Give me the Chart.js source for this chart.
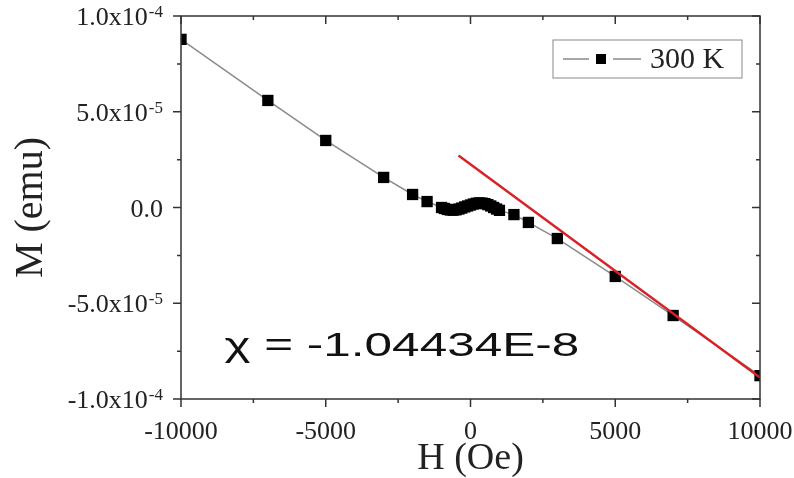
<!DOCTYPE html>
<html>
<head>
<meta charset="utf-8">
<script src="https://cdn.jsdelivr.net/npm/chart.js@4"></script>
<style>
  body { margin: 0; background: #fff; }
</style>
</head>
<body>
<canvas id="mh_chart" width="794" height="478"></canvas>
<script>
// field (Oe) and moment (emu)
const hField = [-10000, -7000, -5000, -3000, -2000, -1500,
	-1000, -900, -800, -700, -600, -500, -400, -300, -200, -100, 0,
	100, 200, 300, 400, 500, 600, 700, 800, 900, 1000,
	1500, 2000, 3000, 5000, 7000, 10000];
const moment = [8.78e-5, 5.59e-5, 3.50e-5, 1.57e-5, 0.68e-5, 0.31e-5,
	0.00e-5, -0.05e-5, -0.10e-5, -0.13e-5, -0.14e-5, -0.12e-5, -0.08e-5, -0.03e-5, 0.03e-5, 0.08e-5, 0.13e-5,
	0.18e-5, 0.22e-5, 0.24e-5, 0.23e-5, 0.20e-5, 0.15e-5, 0.08e-5, 0.00e-5, -0.08e-5, -0.15e-5,
	-0.37e-5, -0.78e-5, -1.62e-5, -3.60e-5, -5.64e-5, -8.78e-5];

// linear fit (red line) end points
const fitH = [-415, 10000];
const fitM = [2.72e-5, -8.88e-5];

const seriesLabel = '300 K';
const chiText = 'χ = -1.04434E-8';
const chiPos = [-8500, -7.78e-5]; // where the note sits (data coords)

// ticks
const xMajor = [-10000, -5000, 0, 5000, 10000];
const xMinor = [-7500, -2500, 2500, 7500];
const yMajor = [-1e-4, -5e-5, 0, 5e-5, 1e-4];
const yMinor = [-7.5e-5, -2.5e-5, 2.5e-5, 7.5e-5];
const yTickBase = ['-1.0x10', '-5.0x10', '0.0', '5.0x10', '1.0x10'];
const yTickExp = ['-4', '-5', '', '-5', '-4'];

const serif = '"Liberation Serif", "Times New Roman", serif';
const sans = '"Liberation Sans", Arial, sans-serif';

// frame, ticks on all four sides, y labels with superscripts
const framePlugin = {
	id: 'framePlugin',
	afterDraw(chart) {
		const { ctx, chartArea: { left, right, top, bottom }, scales: { x, y } } = chart;
		ctx.save();
		ctx.strokeStyle = '#333';
		ctx.lineWidth = 1.5;
		ctx.strokeRect(left, top, right - left, bottom - top);

		ctx.beginPath();
		xMajor.concat(xMinor).forEach(function (v) {
			const len = xMajor.includes(v) ? 8 : 4;
			const px = x.getPixelForValue(v);
			ctx.moveTo(px, bottom); ctx.lineTo(px, bottom + len); // outward
			ctx.moveTo(px, top); ctx.lineTo(px, top + len);        // inward
		});
		yMajor.concat(yMinor).forEach(function (v) {
			const len = yMajor.includes(v) ? 8 : 4;
			const py = y.getPixelForValue(v);
			ctx.moveTo(left, py); ctx.lineTo(left - len, py);
			ctx.moveTo(right, py); ctx.lineTo(right - len, py);
		});
		ctx.stroke();

		// y tick labels
		ctx.fillStyle = '#222';
		ctx.textAlign = 'right';
		ctx.textBaseline = 'alphabetic';
		const labelRight = left - 18;
		yMajor.forEach(function (v, i) {
			const py = y.getPixelForValue(v);
			let xr = labelRight;
			if (yTickExp[i]) {
				ctx.font = '17px ' + serif;
				ctx.fillText(yTickExp[i], xr, py + 1);
				xr -= ctx.measureText(yTickExp[i]).width + 1;
			}
			ctx.font = '26px ' + serif;
			ctx.fillText(yTickBase[i], xr, py + 9);
		});
		ctx.restore();
	}
};

// legend box in the upper right + chi note
const notePlugin = {
	id: 'notePlugin',
	afterDraw(chart) {
		const { ctx, chartArea: { right, top }, scales: { x, y } } = chart;
		const ds = chart.data.datasets[1];
		ctx.save();
		// legend
		const bx = right - 207, by = top + 24, bw = 189, bh = 38;
		ctx.strokeStyle = '#888';
		ctx.lineWidth = 1;
		ctx.strokeRect(bx, by, bw, bh);
		const ly = by + bh / 2;
		ctx.strokeStyle = ds.borderColor;
		ctx.lineWidth = 1.5;
		ctx.beginPath();
		ctx.moveTo(bx + 10, ly); ctx.lineTo(bx + 36, ly);
		ctx.moveTo(bx + 60, ly); ctx.lineTo(bx + 88, ly);
		ctx.stroke();
		ctx.fillStyle = '#000';
		ctx.fillRect(bx + 43, ly - 5, 10, 10);
		ctx.font = '30px ' + serif;
		ctx.fillStyle = '#222';
		ctx.textAlign = 'left';
		ctx.textBaseline = 'middle';
		ctx.fillText(ds.label, bx + 97, ly + 1);

		// chi note, stretched wide like the original
		const cx = x.getPixelForValue(chiPos[0]);
		const cy = y.getPixelForValue(chiPos[1]);
		ctx.translate(cx, cy);
		ctx.scale(1.5, 1);
		ctx.font = '33px ' + sans;
		ctx.fillStyle = '#111';
		ctx.textBaseline = 'alphabetic';
		ctx.fillText(chiText, 0, 0);
		ctx.restore();
	}
};

const ctx = document.getElementById('mh_chart').getContext('2d');
new Chart(ctx, {
	type: 'line',
	data: {
		datasets: [
			{
				label: 'fit',
				data: fitH.map((h, i) => ({ x: h, y: fitM[i] })),
				borderColor: '#d82228',
				borderWidth: 2.5,
				pointRadius: 0,
				order: 0
			},
			{
				label: seriesLabel,
				data: hField.map((h, i) => ({ x: h, y: moment[i] })),
				borderColor: '#8a8a8a',
				borderWidth: 1.5,
				pointStyle: 'rect',
				pointRadius: 8,
				pointBackgroundColor: '#000',
				pointBorderColor: '#000',
				pointBorderWidth: 0,
				order: 1
			}
		]
	},
	options: {
		responsive: false,
		animation: false,
		layout: { padding: { top: 16, right: 34, left: 0, bottom: 0 } },
		plugins: {
			legend: { display: false },
			tooltip: { enabled: false }
		},
		scales: {
			x: {
				type: 'linear',
				min: -10000,
				max: 10000,
				afterFit(scale) {
					scale.height = 79;
					scale.paddingLeft = 0;
					scale.paddingRight = 0;
				},
				grid: { display: false },
				border: { display: false },
				ticks: {
					stepSize: 5000,
					autoSkip: false,
					maxRotation: 0,
					padding: 10,
					color: '#222',
					font: { family: serif, size: 26 },
					callback: function (value) { return String(value); }
				},
				title: {
					display: true,
					text: 'H (Oe)',
					color: '#222',
					padding: { top: 0, bottom: 0 },
					font: { family: serif, size: 38, lineHeight: 1 }
				}
			},
			y: {
				type: 'linear',
				min: -1e-4,
				max: 1e-4,
				afterFit(scale) { scale.width = 181; },
				grid: { display: false },
				border: { display: false },
				ticks: { display: false },
				title: {
					display: true,
					text: 'M (emu)',
					color: '#222',
					padding: { top: 7, bottom: 0 },
					font: { family: serif, size: 40, lineHeight: 1.2 }
				}
			}
		}
	},
	plugins: [framePlugin, notePlugin]
});
</script>
</body>
</html>
